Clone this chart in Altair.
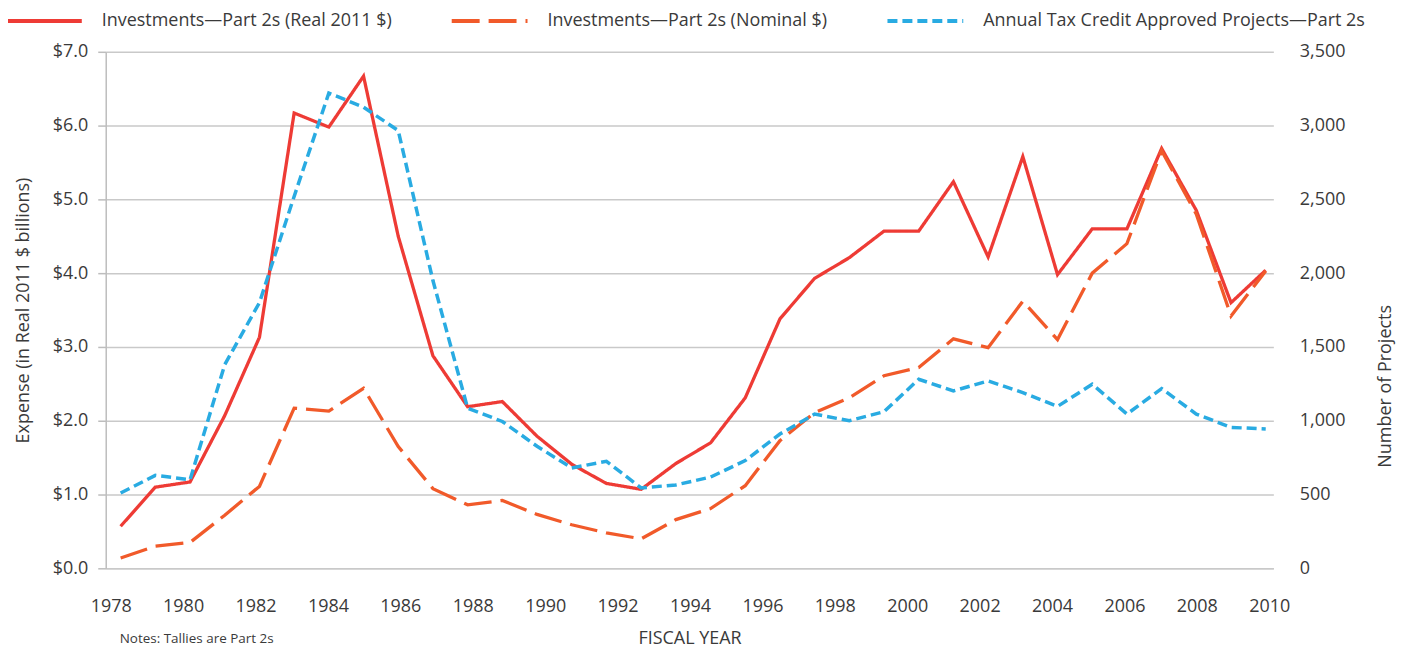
import altair as alt
import pandas as pd

# ---- data ----
years = [1978, 1979, 1980, 1981, 1982, 1983, 1984, 1985, 1986, 1987, 1988, 1989,
         1990, 1991, 1992, 1993, 1994, 1995, 1996, 1997, 1998, 1999, 2000, 2001,
         2002, 2003, 2004, 2005, 2006, 2007, 2008, 2009, 2010, 2011]
real_2011 = [0.57, 1.10, 1.17, 2.07, 3.13, 6.17, 5.98, 6.67, 4.50, 2.88, 2.19, 2.26,
             1.79, 1.41, 1.15, 1.07, 1.42, 1.70, 2.31, 3.38, 3.93, 4.21, 4.57, 4.57,
             5.24, 4.22, 5.58, 3.98, 4.60, 4.60, 5.69, 4.85, 3.60, 4.04]
nominal = [0.14, 0.30, 0.35, 0.72, 1.11, 2.17, 2.13, 2.44, 1.65, 1.08, 0.86, 0.92,
           0.73, 0.59, 0.48, 0.40, 0.66, 0.81, 1.12, 1.73, 2.11, 2.31, 2.61, 2.72,
           3.11, 2.99, 3.62, 3.10, 4.00, 4.40, 5.66, 4.80, 3.42, 4.03]
projects = [510, 630, 600, 1380, 1800, 2520, 3220, 3125, 2966, 1950, 1085, 995,
            827, 680, 725, 545, 565, 618, 730, 910, 1045, 1000, 1061, 1281,
            1202, 1270, 1191, 1097, 1247, 1045, 1218, 1045, 955, 944]
tick_years = [1978, 1980, 1982, 1984, 1986, 1988, 1990, 1992, 1994, 1996, 1998,
              2000, 2002, 2004, 2006, 2008, 2010]
left_ticks = [0, 1, 2, 3, 4, 5, 6, 7]
right_ticks = [0, 500, 1000, 1500, 2000, 2500, 3000, 3500]

S_REAL = "Investments\u2014Part 2s (Real 2011 $)"
S_NOM = "Investments\u2014Part 2s (Nominal $)"
S_PROJ = "Annual Tax Credit Approved Projects\u2014Part 2s"
series_names = [S_REAL, S_NOM, S_PROJ]

FONT = "Open Sans"
FS = 18
TXT = "#3a3a3a"
GRID = "#c9c9c9"

dollars = pd.DataFrame({
    "year": years + years,
    "value": real_2011 + nominal,
    "series": [S_REAL] * len(years) + [S_NOM] * len(years),
})
proj = pd.DataFrame({"year": years, "value": projects, "series": [S_PROJ] * len(years)})
ticks_df = pd.DataFrame({"label_year": tick_years})

color_scale = alt.Scale(domain=series_names, range=["#ee3b35", "#f15a2a", "#29abe2"])
dash_scale = alt.Scale(domain=series_names, range=[[1, 0], [28, 9], [10, 5]])

x_data = alt.X("year:Q", scale=alt.Scale(domain=[1977.57, 2011.22], nice=False, zero=False), axis=None)

legend = alt.Legend(
    orient="none", legendX=-102, legendY=-71, direction="horizontal", title=None,
    symbolType="stroke", symbolSize=5776, symbolStrokeWidth=4,
    labelFont=FONT, labelFontSize=FS, labelColor=TXT, labelLimit=600,
    labelOffset=18, columnPadding=52,
)

carrier = alt.Chart(ticks_df).mark_point(opacity=0, size=1).encode(
    x=alt.X("label_year:Q",
            scale=alt.Scale(domain=[1977.862, 2010.113], nice=False, zero=False),
            axis=alt.Axis(values=tick_years, format="d", title="FISCAL YEAR",
                          ticks=False, grid=False, domainColor=GRID, domainWidth=1.5,
                          labelFont=FONT, labelFontSize=FS, labelColor=TXT, labelPadding=29,
                          labelFlush=False, titleFont=FONT, titleFontSize=FS, titleColor=TXT,
                          titleFontWeight="normal", titlePadding=14)),
    y=alt.value(0),
)

money = alt.Chart(dollars).mark_line(strokeWidth=3.3).encode(
    x=x_data,
    y=alt.Y("value:Q", scale=alt.Scale(domain=[0, 7], nice=False),
            axis=alt.Axis(orient="left", values=left_ticks,
                          labelExpr="'$' + format(datum.value, '.1f')",
                          title="Expense (in Real 2011 $ billions)",
                          grid=True, gridColor=GRID, gridWidth=1.5,
                          domainColor="#bdbdbd", domainWidth=1.5,
                          tickColor="#bdbdbd", tickWidth=1.5, tickSize=8,
                          labelFont=FONT, labelFontSize=FS, labelColor=TXT, labelPadding=10,
                          titleFont=FONT, titleFontSize=FS, titleColor=TXT,
                          titleFontWeight="normal", titlePadding=20)),
    color=alt.Color("series:N", scale=color_scale, legend=legend, sort=series_names),
    strokeDash=alt.StrokeDash("series:N", scale=dash_scale, legend=legend, sort=series_names),
)

proj_line = alt.Chart(proj).mark_line(strokeWidth=3.5).encode(
    x=x_data,
    y=alt.Y("value:Q", scale=alt.Scale(domain=[0, 3500], nice=False),
            axis=alt.Axis(orient="right", values=right_ticks,
                          labelExpr="format(datum.value, ',d')",
                          title="Number of Projects", grid=False, domain=False, ticks=False,
                          labelFont=FONT, labelFontSize=FS, labelColor=TXT, labelPadding=26,
                          titleFont=FONT, titleFontSize=FS, titleColor=TXT,
                          titleFontWeight="normal", titlePadding=50, titleAngle=270,
                          titleY=335)),
    color=alt.Color("series:N", scale=color_scale, legend=legend, sort=series_names),
    strokeDash=alt.StrokeDash("series:N", scale=dash_scale, legend=legend, sort=series_names),
)

chart = alt.layer(carrier, money, proj_line).resolve_scale(
    x="independent", y="independent"
).properties(
    width=1171, height=518,
    autosize=alt.AutoSizeParams(type="none"),
    padding={"left": 98, "top": 43, "right": 124, "bottom": 80},
    title=alt.TitleParams("Notes: Tallies are Part 2s", orient="bottom", anchor="start",
                          frame="group", fontSize=13.5, font=FONT, color=TXT,
                          fontWeight="normal", offset=-15, dx=14),
).configure_view(stroke=None)

chart.save("out.html", embed_options={"renderer": "svg", "actions": False})
